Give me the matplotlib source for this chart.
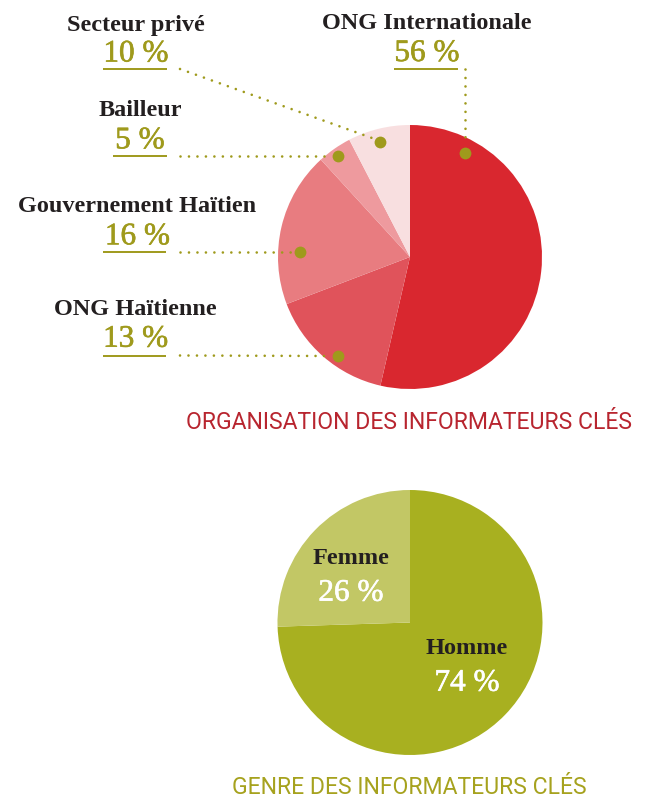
import matplotlib
matplotlib.use("Agg")
import matplotlib.pyplot as plt
import matplotlib.patheffects as pe

# organisation of key informants (slice shares as drawn, labels as printed)
org_names = ["ONG Internationale", "ONG Haïtienne", "Gouvernement Haïtien", "Bailleur", "Secteur privé"]
org_shares = [53.6, 15.6, 19.0, 4.2, 7.6]
org_labels = ["56 %", "13 %", "16 %", "5 %", "10 %"]
org_colors = ["#d9272f", "#e0535b", "#e87c80", "#ee9a9e", "#f8dfe0"]

# gender of key informants
gender_names = ["Homme", "Femme"]
gender_shares = [74.5, 25.5]
gender_labels = ["74 %", "26 %"]
gender_colors = ["#a8b020", "#c2c765"]

W, H = 649, 798
OLIVE = "#9f9a1c"
SERIF = ["Liberation Serif", "DejaVu Serif"]
SANS = ["Roboto", "DejaVu Sans"]


def Y(y):
    return H - y


def semibold(color):
    # thin outline in the text colour to thicken the regular serif a little
    return [pe.withStroke(linewidth=0.45, foreground=color)]


fig = plt.figure(figsize=(W / 100, H / 100), dpi=100)
ax = fig.add_axes([0, 0, 1, 1])

ax.pie(org_shares, colors=org_colors, startangle=90, counterclock=False,
       center=(410, Y(257)), radius=132, wedgeprops=dict(linewidth=0))
ax.pie(gender_shares, colors=gender_colors, startangle=90, counterclock=False,
       center=(410, Y(622.5)), radius=132.5, wedgeprops=dict(linewidth=0))

# callout layout: name x/baseline, pct baseline, underline span, leader path
callouts = {
    "Secteur privé": dict(x=136, yn=30.5, yp=61.5, ul=(103, 167, 69), path=[(180, 69), (372, 138)], dot=(380, 141.5)),
    "Bailleur": dict(x=140, yn=116, yp=148.3, ul=(113, 167, 155.7), path=[(180, 156), (330, 156)], dot=(338, 156)),
    "ONG Internationale": dict(x=427, yn=29.3, yp=61, ul=(394, 458, 69), path=[(465, 69), (465, 145)], dot=(465, 153)),
    "Gouvernement Haïtien": dict(x=137.5, yn=212.3, yp=244.3, ul=(103, 166, 252), path=[(180, 252), (292, 252)], dot=(300, 252)),
    "ONG Haïtienne": dict(x=135.7, yn=315, yp=346.7, ul=(103, 166, 355.5), path=[(180, 355.5), (330, 356)], dot=(338, 356)),
}

for name, lab in zip(org_names, org_labels):
    c = callouts[name]
    ax.text(c["x"], Y(c["yn"]), name, ha="center", va="baseline", family=SERIF,
            fontweight="bold", fontsize=17.5, color="#231f20")
    ax.text(c["x"], Y(c["yp"]), lab, ha="center", va="baseline", family=SERIF,
            fontsize=22.5, color=OLIVE, path_effects=semibold(OLIVE))
    x0, x1, yu = c["ul"]
    ax.plot([x0, x1], [Y(yu), Y(yu)], color=OLIVE, lw=1.4, solid_capstyle="butt")
    xs = [p[0] for p in c["path"]]
    ys = [Y(p[1]) for p in c["path"]]
    ax.plot(xs, ys, color=OLIVE, lw=1.9, linestyle=(0, (0.01, 3.2)), dash_capstyle="round")
    ax.plot(c["dot"][0], Y(c["dot"][1]), "o", color=OLIVE, ms=8.5, mew=0)

gender_pos = {"Homme": (467, 654.3, 690.7), "Femme": (351, 564, 600.7)}
for name, lab in zip(gender_names, gender_labels):
    x, yn, yp = gender_pos[name]
    ax.text(x, Y(yn), name, ha="center", va="baseline", family=SERIF,
            fontweight="bold", fontsize=17.5, color="#231f20")
    ax.text(x, Y(yp), lab, ha="center", va="baseline", family=SERIF,
            fontsize=22.5, color="white", path_effects=semibold("white"))

ax.text(409, Y(429.3), "ORGANISATION DES INFORMATEURS CLÉS", ha="center", va="baseline",
        family=SANS, fontsize=16.6, color="#b8252f")
ax.text(409, Y(794.5), "GENRE DES INFORMATEURS CLÉS", ha="center", va="baseline",
        family=SANS, fontsize=16.6, color="#a6a21e")

ax.set_xlim(0, W)
ax.set_ylim(0, H)
ax.set_aspect("equal")
ax.axis("off")

fig.savefig("out.png", dpi=100, facecolor="white")
